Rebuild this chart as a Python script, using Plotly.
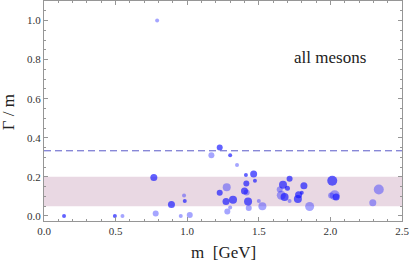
import plotly.graph_objects as go

# Dark (opaque blue) points
dark_m = [0.14, 0.495, 0.767, 0.89, 0.983, 1.227, 1.30, 1.41, 1.464, 1.473, 1.413, 1.227, 1.40,
          1.271, 1.32, 1.425, 1.715, 1.669, 1.70, 1.815, 1.68, 1.778, 1.773, 1.80, 2.013, 2.04]
dark_r = [0.0, 0.0, 0.197, 0.058, 0.077, 0.35, 0.31, 0.21, 0.214, 0.18, 0.166, 0.118, 0.127,
          0.074, 0.083, 0.074, 0.19, 0.159, 0.142, 0.154, 0.097, 0.108, 0.087, 0.118, 0.18, 0.097]
dark_s = [4, 4, 7, 7, 4, 6, 4, 4, 7, 4, 6, 6, 7,
          7, 8, 8, 6, 8, 5, 7, 8, 7, 8, 4, 10, 7]

# Light (translucent) points
light_m = [0.548, 0.79, 0.78, 0.978, 0.955, 1.018, 1.169, 1.348, 1.276, 1.30, 1.28, 1.43, 1.50,
           1.525, 1.646, 1.657, 1.715, 1.855, 2.03, 2.005, 2.338, 2.296, 1.415]
light_r = [0.0, 1.0, 0.012, 0.105, 0.0, 0.005, 0.31, 0.26, 0.147, 0.043, 0.022, 0.04, 0.077,
           0.05, 0.135, 0.106, 0.077, 0.048, 0.106, 0.105, 0.135, 0.067, 0.12]
light_s = [4, 4, 6, 4, 4, 6, 6, 4, 8, 4, 6, 6, 4,
           8, 6, 9, 4, 9, 10, 6, 10, 7, 6]

band = [0.05, 0.2]
dashed_level = 1 / 3
x_ticks = [0.0, 0.5, 1.0, 1.5, 2.0, 2.5]
y_ticks = [0.0, 0.2, 0.4, 0.6, 0.8, 1.0]

FONT = "Liberation Serif"
AX = "rgb(150,150,150)"

fig = go.Figure()
fig.add_trace(go.Scatter(x=light_m, y=light_r, mode="markers",
                         marker=dict(size=light_s, color="rgba(40,40,255,0.6)", line=dict(width=0)),
                         showlegend=False, hoverinfo="skip"))
fig.add_trace(go.Scatter(x=dark_m, y=dark_r, mode="markers",
                         marker=dict(size=dark_s, color="rgba(20,20,255,0.95)", line=dict(width=0)),
                         showlegend=False, hoverinfo="skip"))

fig.add_shape(type="rect", xref="paper", yref="y", x0=0, x1=1, y0=band[0], y1=band[1],
              fillcolor="rgb(233,216,227)", line=dict(width=0), layer="below")
fig.add_shape(type="line", xref="paper", yref="y", x0=0, x1=1, y0=dashed_level, y1=dashed_level,
              line=dict(color="rgb(90,90,200)", width=1, dash="7px,4px"))

axis_common = dict(showgrid=False, zeroline=False, showline=True, linecolor=AX,
                   linewidth=1, mirror="ticks", ticks="inside", ticklen=4, tickcolor=AX,
                   tickfont=dict(family=FONT, size=11, color="#333"))

fig.update_xaxes(range=[0, 2.5], tickvals=x_ticks, ticktext=[f"{v:.1f}" for v in x_ticks],
                 minor=dict(dtick=0.1, ticklen=2, ticks="inside", tickcolor=AX),
                 **axis_common)
fig.update_yaxes(range=[-0.026, 1.1], tickvals=y_ticks, ticktext=[f"{v:.1f}" for v in y_ticks],
                 minor=dict(dtick=0.05, ticklen=2, ticks="inside", tickcolor=AX),
                 **axis_common)

fig.update_layout(
    width=410, height=262,
    margin=dict(l=44, r=8, t=1, b=41),
    plot_bgcolor="white", paper_bgcolor="white",
    font=dict(family=FONT, color="#222"),
    annotations=[
        dict(text="all mesons", xref="x", yref="y", x=2.0, y=0.81, showarrow=False,
             xanchor="center", yanchor="middle", font=dict(family=FONT, size=17, color="#222")),
        dict(text="m  [GeV]", xref="paper", yref="paper", x=0.5, y=-0.145, showarrow=False,
             xanchor="center", yanchor="middle", font=dict(family=FONT, size=17, color="#222")),
        dict(text="Γ / m", xref="paper", yref="paper", x=-0.1, y=0.495, showarrow=False,
             textangle=-90, xanchor="center", yanchor="middle", font=dict(family=FONT, size=17, color="#222")),
    ],
)

fig.write_html("out.html", config={"displayModeBar": False},
               post_script="document.body.style.margin='0';")
